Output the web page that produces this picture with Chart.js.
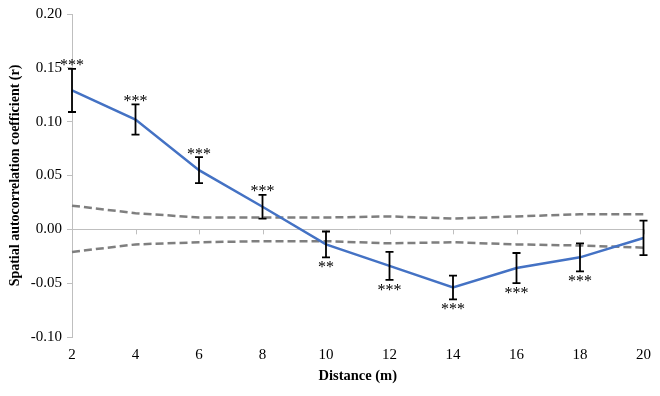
<!DOCTYPE html>
<html>
<head>
<meta charset="utf-8">
<script src="https://cdn.jsdelivr.net/npm/chart.js@4/dist/chart.umd.min.js"></script>
<style>
  html, body { margin: 0; padding: 0; background: #fff; }
  #wrap { width: 660px; height: 396px; }
</style>
</head>
<body>
<div id="wrap"><canvas id="chart"></canvas></div>
<script>
// distances (m)
const distances = ['2', '4', '6', '8', '10', '12', '14', '16', '18', '20'];
// observed r and its error bar half-width
const coefficient = [0.129, 0.102, 0.055, 0.021, -0.014, -0.034, -0.054, -0.036, -0.026, -0.008];
const errorMargin = [0.020, 0.014, 0.012, 0.011, 0.012, 0.013, 0.011, 0.014, 0.013, 0.016];
// 95% envelope (dashed)
const upperEnvelope = [0.022, 0.015, 0.011, 0.011, 0.011, 0.012, 0.010, 0.012, 0.014, 0.014];
const lowerEnvelope = [-0.021, -0.014, -0.012, -0.011, -0.011, -0.013, -0.012, -0.014, -0.015, -0.017];
const significance = ['***', '***', '***', '***', '**', '***', '***', '***', '***', ''];
const yTicks = [-0.10, -0.05, 0.00, 0.05, 0.10, 0.15, 0.20];

Chart.defaults.font.family = "'Liberation Serif', 'Times New Roman', serif";
Chart.defaults.color = '#000';

// tick marks on the zero line
const zeroAxisPlugin = {
  id: 'zeroAxis',
  beforeDatasetsDraw(chart) {
    const { ctx, scales: { x, y } } = chart;
    const y0 = y.getPixelForValue(0);
    ctx.save();
    ctx.strokeStyle = '#BFBFBF';
    ctx.lineWidth = 1;
    distances.forEach((d, i) => {
      const px = Math.round(x.getPixelForValue(i)) + 0.5;
      ctx.beginPath();
      ctx.moveTo(px, y0);
      ctx.lineTo(px, y0 + 5);
      ctx.stroke();
    });
    ctx.restore();
  }
};

// error bars + significance stars
const errorBarPlugin = {
  id: 'errorBars',
  afterDatasetsDraw(chart) {
    const { ctx, scales: { x, y } } = chart;
    ctx.save();
    ctx.strokeStyle = '#000';
    ctx.lineWidth = 1.8;
    ctx.font = "16px 'Liberation Serif'";
    ctx.fillStyle = '#000';
    ctx.textAlign = 'center';
    ctx.textBaseline = 'alphabetic';
    coefficient.forEach((v, i) => {
      const px = x.getPixelForValue(i);
      const top = y.getPixelForValue(v + errorMargin[i]);
      const bot = y.getPixelForValue(v - errorMargin[i]);
      ctx.beginPath();
      ctx.moveTo(px, top); ctx.lineTo(px, bot);
      ctx.moveTo(px - 4, top); ctx.lineTo(px + 4, top);
      ctx.moveTo(px - 4, bot); ctx.lineTo(px + 4, bot);
      ctx.stroke();

      const s = significance[i];
      if (!s) return;
      const m = ctx.measureText(s);
      if (v > 0) {
        ctx.fillText(s, px, top - 2.5 - m.actualBoundingBoxDescent);
      } else {
        ctx.fillText(s, px, bot + 4 + m.actualBoundingBoxAscent);
      }
    });
    ctx.restore();
  }
};

new Chart(document.getElementById('chart'), {
  type: 'line',
  data: {
    labels: distances,
    datasets: [
      {
        data: coefficient,
        borderColor: '#4472C4',
        borderWidth: 2.5,
        pointRadius: 0,
        tension: 0,
        order: 0
      },
      {
        data: upperEnvelope,
        borderColor: '#7F7F7F',
        borderWidth: 2.5,
        borderDash: [8, 4],
        pointRadius: 0,
        order: 1
      },
      {
        data: lowerEnvelope,
        borderColor: '#7F7F7F',
        borderWidth: 2.5,
        borderDash: [8, 4],
        pointRadius: 0,
        order: 1
      }
    ]
  },
  options: {
    responsive: true,
    maintainAspectRatio: false,
    animation: false,
    layout: { padding: { top: 14, right: 10, left: 0, bottom: 0 } },
    plugins: { legend: { display: false }, tooltip: { enabled: false } },
    scales: {
      x: {
        offset: false,
        border: { display: false },
        grid: { display: false, drawTicks: false },
        ticks: { font: { size: 15 }, padding: 9, maxRotation: 0 },
        title: {
          display: true,
          text: 'Distance (m)',
          font: { size: 14.5, weight: 'bold' },
          padding: { top: 0, bottom: 11 }
        },
        afterFit(scale) { scale.height = 59; }
      },
      y: {
        min: -0.1,
        max: 0.2,
        afterBuildTicks(scale) { scale.ticks = yTicks.map(v => ({ value: v })); },
        border: { display: true, color: '#BFBFBF', width: 1 },
        grid: {
          drawOnChartArea: true,
          color: c => (c.tick && Math.abs(c.tick.value) < 1e-9) ? '#BFBFBF' : 'rgba(0,0,0,0)',
          tickColor: '#BFBFBF',
          tickLength: 5
        },
        ticks: {
          font: { size: 15 },
          padding: 5,
          callback: v => Number(v).toFixed(2)
        },
        title: {
          display: true,
          text: 'Spatial autocorrelation coefficient (r)',
          font: { size: 14, weight: 'bold' },
          padding: { top: 7, bottom: 0 }
        },
        afterFit(scale) { scale.width = 72; }
      }
    }
  },
  plugins: [zeroAxisPlugin, errorBarPlugin]
});
</script>
</body>
</html>
